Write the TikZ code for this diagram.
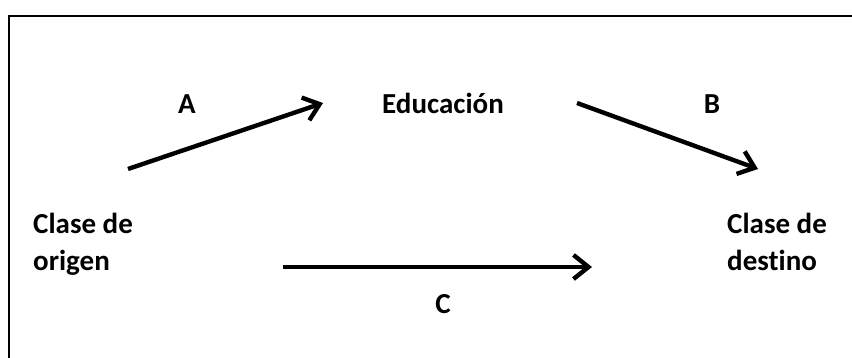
\documentclass[tikz,border=0pt]{standalone}
\usepackage{fontspec}
\setmainfont{Carlito}[Ligatures={NoCommon,NoRare}]
\usetikzlibrary{arrows.meta}
\begin{document}
\begin{tikzpicture}[x=1pt,y=-1pt,
  lbl/.style={font=\bfseries\fontsize{29}{37}\selectfont, inner sep=0pt, anchor=base},
  blk/.style={font=\bfseries\fontsize{29}{37}\selectfont, inner sep=0pt, align=left},
  arr/.style={line width=4.4pt, -{Straight Barb[length=15pt,width=24pt,line width=4.4pt]}}]
\useasboundingbox (0,0) rectangle (852,358);
\draw[line width=2pt] (9,362) -- (9,16) -- (856,16);
\node[lbl] (edu) at (443,114) {Educación};
\node[lbl] (la) at (187,114) {A};
\node[lbl] (lb) at (712,114) {B};
\node[lbl] (lc) at (443,314) {C};
\node[blk, anchor=north west] (orig) at (33,213) {Clase de\\origen};
\node[blk, anchor=north west] (dest) at (727,213) {Clase de\\destino};
\coordinate (a1) at (128,169);
\coordinate (a2) at (323,103);
\coordinate (b1) at (577,103);
\coordinate (b2) at (758,169);
\coordinate (c1) at (283,267);
\coordinate (c2) at (592,267);
\draw[arr] (a1) -- (a2);
\draw[arr] (b1) -- (b2);
\draw[arr] (c1) -- (c2);
\end{tikzpicture}
\end{document}
